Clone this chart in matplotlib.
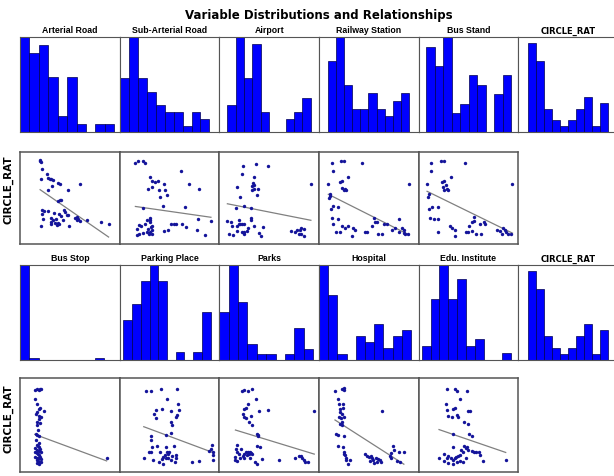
#!/usr/bin/env python

import numpy as np

from matplotlib import pyplot as plt

# histogram bin counts (10 bins each)
arterial_road_counts = [12, 10, 11, 7, 2, 7, 1, 0, 1, 1]
sub_arterial_counts = [8, 14, 8, 6, 4, 3, 3, 1, 3, 2]
airport_counts = [4, 14, 8, 13, 3, 0, 0, 2, 3, 5]
railway_counts = [9, 12, 6, 3, 3, 5, 3, 2, 4, 5]
bus_stand_counts = [9, 7, 10, 2, 3, 6, 5, 0, 4, 6]
circle_rat_counts = [15, 12, 4, 2, 1, 2, 4, 6, 1, 5]
bus_stop_counts = [50, 1, 0, 0, 0, 0, 0, 0, 1, 0]
parking_counts = [5, 7, 10, 12, 10, 0, 1, 0, 1, 6]
parks_counts = [9, 18, 11, 3, 1, 1, 0, 1, 6, 2]
hospital_counts = [16, 11, 1, 0, 4, 3, 6, 2, 4, 5]
edu_counts = [2, 9, 14, 9, 12, 2, 3, 0, 0, 1]

# value range covered by the bins, on a 0-100 axis
arterial_road_span = (0.0, 94.6)
sub_arterial_span = (0.7, 90.0)
airport_span = (8.0, 91.7)
railway_span = (8.7, 90.7)
bus_stand_span = (7.7, 92.7)
circle_rat_span = (9.8, 90.1)
bus_stop_span = (0.0, 93.6)
parking_span = (3.7, 91.3)
parks_span = (0.0, 94.3)
hospital_span = (0.0, 92.3)
edu_span = (3.1, 92.4)

# scatter points (variable, CIRCLE_RAT), both on a 0-100 axis
arterial_road_pts = [
    (20.2, 91.4), (20.5, 89.9), (20.9, 88.8), (21.9, 81.3), (21.2, 70.1), (26.9, 76.3),
    (28.3, 71.9), (30.0, 70.9), (31.6, 70.1), (33.0, 69.1), (32.3, 62.9), (37.7, 66.5),
    (39.7, 64.7), (60.6, 65.5), (27.6, 58.3), (48.5, 59.0), (40.1, 48.2), (38.4, 46.8),
    (41.1, 47.5), (44.4, 37.4), (22.2, 36.7), (24.2, 36.0), (28.3, 36.0), (22.2, 33.1),
    (34.3, 34.2), (39.1, 33.1), (46.8, 31.3), (48.5, 31.3), (23.2, 27.7), (31.0, 28.8),
    (33.3, 25.9), (35.7, 27.7), (41.1, 30.2), (43.4, 25.9), (31.6, 24.1), (35.0, 23.0),
    (37.7, 23.0), (39.1, 21.6), (55.2, 28.8), (56.9, 26.6), (58.6, 27.7), (60.3, 25.2),
    (67.0, 25.9), (31.6, 22.3), (20.9, 20.1), (49.2, 20.1), (81.5, 23.7), (88.9, 22.3),
    (57.2, 29.5), (36.7, 20.5), (45.1, 34.9),
]
sub_arterial_pts = [
    (15.8, 87.8), (18.2, 89.9), (23.2, 89.9), (25.9, 87.8), (61.3, 79.1), (30.0, 72.7),
    (32.7, 68.0), (35.4, 67.3), (38.7, 68.3), (44.8, 65.5), (69.7, 65.5), (28.6, 60.1),
    (32.0, 61.9), (39.4, 58.3), (45.5, 59.0), (79.8, 59.4), (40.7, 51.1), (47.5, 52.9),
    (43.4, 41.4), (65.3, 40.3), (23.2, 39.2), (30.0, 28.8), (27.6, 26.6), (30.6, 26.6),
    (30.0, 24.1), (19.2, 20.5), (21.9, 19.4), (25.9, 21.6), (31.3, 18.7), (32.7, 19.4),
    (17.8, 16.9), (28.6, 16.5), (32.7, 15.8), (27.3, 13.3), (30.6, 13.3), (23.2, 12.2),
    (19.2, 11.5), (17.2, 9.7), (29.3, 10.8), (32.7, 10.8), (44.8, 14.4), (48.1, 15.1),
    (51.2, 21.6), (54.2, 21.6), (56.9, 21.6), (63.0, 21.6), (66.3, 18.7), (79.1, 27.7),
    (91.6, 25.2), (77.8, 15.1), (85.2, 10.1),
]
airport_pts = [
    (23.3, 84.2), (37.2, 86.3), (48.6, 84.2), (22.3, 75.5), (18.2, 61.9), (32.4, 62.6),
    (34.5, 64.0), (35.1, 72.7), (33.4, 66.6), (35.1, 60.1), (38.5, 60.1), (37.8, 52.9),
    (33.1, 59.0), (20.9, 51.1), (25.0, 41.0), (31.8, 39.6), (16.6, 39.2), (91.9, 65.5),
    (8.1, 24.8), (11.5, 24.1), (19.6, 26.6), (31.8, 28.4), (20.9, 21.6), (22.3, 21.6),
    (25.0, 21.6), (18.2, 19.4), (13.2, 19.4), (28.4, 18.0), (35.1, 19.4), (43.9, 18.7),
    (18.2, 14.4), (22.3, 13.3), (25.0, 13.3), (27.7, 14.0), (10.1, 11.5), (14.2, 10.1),
    (24.3, 10.8), (39.9, 12.2), (41.9, 8.6), (72.3, 14.4), (76.4, 12.9), (78.4, 15.8),
    (80.7, 15.1), (82.4, 17.3), (84.5, 16.9), (81.8, 10.8), (84.5, 8.6), (80.1, 10.8),
    (31.8, 25.9), (19.9, 21.6),
]
railway_pts = [
    (12.8, 87.8), (22.1, 89.9), (24.8, 89.9), (43.0, 87.8), (13.8, 79.1), (9.4, 65.5),
    (21.1, 67.3), (22.8, 68.0), (29.5, 72.7), (23.5, 61.2), (26.2, 60.1), (24.8, 58.3),
    (27.5, 59.0), (10.7, 51.8), (10.1, 50.4), (14.4, 41.0), (18.8, 40.3), (12.1, 38.5),
    (90.6, 65.5), (13.4, 28.4), (18.8, 27.7), (14.4, 21.6), (26.2, 17.6), (29.5, 19.4),
    (34.6, 18.0), (36.2, 15.1), (17.4, 13.3), (21.5, 13.3), (33.6, 8.6), (46.3, 13.3),
    (48.3, 13.3), (53.7, 19.4), (56.4, 24.5), (55.0, 28.8), (58.4, 24.1), (64.8, 21.6),
    (68.1, 21.6), (79.9, 27.7), (73.2, 15.1), (76.5, 17.3), (83.2, 17.3), (84.9, 15.1),
    (79.9, 13.3), (85.2, 12.2), (86.6, 10.8), (89.3, 10.8), (59.1, 11.5), (63.1, 10.8),
    (23.5, 19.4), (11.1, 54.7),
]
bus_stand_pts = [
    (12.3, 87.8), (22.5, 89.9), (25.9, 89.9), (46.1, 87.8), (12.3, 79.1), (8.5, 65.5),
    (23.2, 67.3), (25.9, 68.0), (32.1, 72.7), (24.6, 61.9), (25.9, 59.0), (30.0, 59.0),
    (28.0, 60.1), (9.6, 51.1), (13.0, 40.3), (19.1, 40.3), (10.2, 38.5), (94.2, 65.5),
    (11.6, 28.4), (15.7, 27.7), (19.1, 27.7), (55.3, 29.5), (53.9, 24.1), (61.4, 21.6),
    (66.6, 21.6), (65.5, 24.1), (31.4, 19.4), (33.4, 18.0), (36.2, 15.1), (50.5, 19.4),
    (47.1, 13.3), (49.8, 13.3), (53.2, 14.4), (19.8, 13.3), (36.9, 8.6), (63.1, 10.8),
    (58.0, 10.8), (78.5, 15.8), (81.9, 14.4), (84.6, 17.3), (87.0, 15.1), (88.1, 13.3),
    (89.4, 10.8), (92.8, 10.8), (83.6, 10.8), (55.3, 25.2), (10.2, 54.7), (27.3, 63.7),
]
bus_stop_pts = [
    (14.8, 87.1), (17.5, 88.6), (18.9, 87.5), (20.2, 88.6), (21.5, 88.6), (15.5, 77.9),
    (16.8, 72.1), (18.9, 67.1), (17.5, 64.3), (20.2, 67.9), (24.2, 65.0), (16.2, 61.4),
    (19.5, 60.0), (21.5, 58.9), (18.9, 56.4), (17.5, 53.6), (20.2, 51.8), (16.8, 50.0),
    (18.2, 44.6), (16.5, 40.0), (17.5, 39.3), (18.9, 38.6), (16.8, 28.6), (18.2, 27.9),
    (19.5, 26.8), (15.5, 25.0), (17.5, 23.2), (18.9, 22.1), (20.2, 24.3), (14.8, 20.7),
    (16.8, 19.6), (18.2, 18.6), (19.5, 17.9), (20.9, 20.7), (15.5, 16.1), (17.5, 15.0),
    (18.9, 14.3), (20.2, 16.1), (21.5, 13.6), (16.8, 12.5), (18.2, 11.4), (19.5, 10.0),
    (20.9, 10.7), (17.5, 8.9), (18.9, 7.9), (86.9, 15.0), (16.5, 33.9), (18.9, 30.4),
]
parking_pts = [
    (26.6, 86.4), (31.0, 86.4), (41.1, 88.6), (57.9, 88.6), (47.5, 77.9), (58.2, 72.1),
    (36.0, 66.1), (42.8, 67.1), (51.5, 65.0), (59.6, 66.1), (34.3, 61.4), (36.0, 57.1),
    (56.2, 58.9), (57.6, 60.7), (51.2, 52.9), (52.9, 50.0), (31.3, 38.6), (46.1, 39.3),
    (51.2, 41.1), (32.0, 26.8), (37.7, 27.5), (46.1, 26.8), (54.5, 27.9), (29.3, 21.4),
    (31.0, 20.7), (40.7, 20.7), (47.8, 21.4), (48.8, 18.6), (43.4, 16.1), (45.5, 17.9),
    (46.8, 15.0), (56.2, 17.9), (56.9, 15.0), (24.2, 15.0), (33.3, 12.5), (42.8, 13.6),
    (48.8, 14.3), (51.5, 12.5), (52.9, 17.1), (39.4, 10.0), (43.4, 7.9), (55.6, 10.0),
    (72.4, 10.0), (79.8, 11.4), (92.6, 28.6), (91.6, 24.3), (89.2, 22.1), (93.3, 20.7),
    (93.9, 17.9), (93.9, 12.9), (49.5, 20.7), (31.0, 33.9),
]
parks_pts = [
    (22.3, 86.4), (24.3, 87.9), (29.1, 86.4), (33.1, 88.6), (36.5, 77.9), (28.4, 72.1),
    (25.0, 67.1), (26.4, 67.9), (39.9, 65.0), (48.6, 66.1), (23.6, 61.4), (25.0, 58.9),
    (31.8, 60.0), (26.4, 57.9), (30.1, 52.9), (33.1, 50.0), (37.8, 40.0), (39.2, 38.6),
    (38.5, 39.3), (37.8, 27.5), (40.5, 26.8), (17.6, 28.6), (16.9, 24.3), (17.6, 20.7),
    (21.6, 24.3), (27.0, 21.4), (28.4, 20.7), (30.4, 20.7), (31.8, 19.6), (27.7, 17.9),
    (25.0, 18.6), (23.6, 17.1), (29.7, 18.6), (33.1, 18.6), (16.2, 16.1), (20.3, 15.0),
    (16.2, 12.5), (18.2, 11.4), (25.0, 14.3), (30.4, 14.3), (35.8, 10.0), (37.8, 7.9),
    (42.6, 13.6), (59.5, 12.5), (75.7, 15.0), (80.4, 17.1), (81.8, 16.4), (83.1, 14.3),
    (84.5, 12.1), (85.8, 10.0), (89.2, 10.0), (95.3, 65.0), (19.6, 18.6),
]
hospital_pts = [
    (16.1, 86.4), (23.5, 88.6), (24.8, 87.9), (25.5, 89.3), (18.8, 77.9), (20.1, 72.1),
    (24.2, 72.1), (20.8, 67.1), (24.2, 67.9), (21.5, 64.3), (22.8, 61.4), (20.1, 58.9),
    (25.5, 58.9), (22.1, 57.1), (22.8, 52.9), (20.8, 50.7), (23.5, 50.0), (63.1, 65.0),
    (16.8, 40.0), (19.5, 39.3), (24.8, 38.6), (19.5, 27.5), (24.2, 26.8), (25.5, 20.7),
    (24.8, 18.6), (26.2, 17.9), (27.5, 12.5), (26.8, 15.0), (28.9, 7.9), (31.5, 12.5),
    (46.3, 18.6), (48.0, 17.1), (50.3, 16.1), (52.3, 17.1), (53.0, 14.3), (54.7, 12.5),
    (57.0, 15.0), (59.7, 13.6), (61.1, 12.1), (62.4, 10.0), (58.4, 10.7), (71.1, 17.1),
    (72.5, 19.6), (74.5, 27.9), (75.8, 23.2), (79.9, 20.7), (85.2, 20.7), (78.5, 11.4),
    (81.5, 10.0), (72.5, 14.3), (51.0, 11.4), (55.7, 8.9),
]
edu_pts = [
    (28.0, 88.6), (36.2, 88.6), (38.2, 86.4), (48.5, 86.4), (41.6, 77.9), (27.3, 72.1),
    (28.7, 66.1), (34.8, 67.1), (36.2, 67.9), (49.1, 65.0), (51.9, 65.0), (29.4, 60.0),
    (33.4, 58.9), (38.9, 60.7), (39.6, 58.6), (45.1, 52.9), (49.8, 50.7), (50.5, 40.0),
    (53.2, 38.6), (34.8, 40.0), (34.8, 26.8), (45.7, 27.9), (47.1, 25.7), (48.5, 26.8),
    (49.8, 23.2), (53.2, 22.1), (55.3, 20.7), (60.8, 20.7), (62.1, 17.9), (43.0, 23.2),
    (44.4, 20.7), (41.6, 17.9), (39.6, 17.1), (37.5, 16.1), (36.9, 14.3), (34.8, 12.5),
    (32.1, 15.0), (30.0, 17.1), (25.9, 18.6), (28.7, 14.3), (20.5, 15.0), (25.9, 11.4),
    (30.0, 8.9), (34.1, 7.9), (38.2, 10.0), (41.6, 11.4), (44.4, 10.0), (47.1, 15.0),
    (64.8, 11.4), (87.4, 12.5), (57.3, 20.7),
]

# straight fit lines: (slope, intercept)
arterial_road_fit = (-0.744, 74.0)
sub_arterial_fit = (-0.154, 43.3)
airport_fit = (-0.213, 45.5)
railway_fit = (-0.541, 59.1)
bus_stand_fit = (-0.527, 61.7)
bus_stop_fit = (-0.394, 45.8)
parking_fit = (-0.398, 57.8)
parks_fit = (-0.326, 49.9)
hospital_fit = (-0.685, 66.4)
edu_fit = (-0.366, 52.6)

W, H = 614, 477
COL_LEFT = 20
COL_W = 99.65
FRAME = '#555555'


def px_axes(fig, left, top, width, height):
    return fig.add_axes([left / W, 1 - (top + height) / H, width / W, height / H])


def clean(ax, lw):
    ax.set_xticks([])
    ax.set_yticks([])
    for s in ax.spines.values():
        s.set_color(FRAME)
        s.set_linewidth(lw)


def hist_panel(ax, counts, span, title, top=None):
    edges = np.linspace(span[0], span[1], len(counts) + 1)
    ax.bar(edges[:-1], counts, width=np.diff(edges), align='edge',
           color='#0000ff', edgecolor='#000050', linewidth=0.5)
    ax.set_xlim(0, 100)
    ax.set_ylim(0, top if top else max(counts))
    clean(ax, 0.8)
    if title == 'CIRCLE_RAT':
        ax.set_title(title, fontsize=6.0, fontweight='bold',
                     family='DejaVu Sans', pad=3.0)
    else:
        ax.set_title(title, fontsize=6.3, fontweight='bold',
                     family='Liberation Sans', pad=3.5)


def scatter_panel(ax, pts, fit):
    xs, ys = zip(*pts)
    ax.scatter(xs, ys, s=6, color='#14149a', linewidths=0, zorder=3)
    xl = np.array([min(xs), max(xs)])
    ax.plot(xl, fit[0] * xl + fit[1], color='#808080', linewidth=0.9, zorder=2)
    ax.set_xlim(0, 100)
    ax.set_ylim(0, 100)
    clean(ax, 1.1)


def main():
    fig = plt.figure(figsize=(W / 100, H / 100), dpi=100)

    top_hist = [
        ('Arterial Road', arterial_road_counts, arterial_road_span),
        ('Sub-Arterial Road', sub_arterial_counts, sub_arterial_span),
        ('Airport', airport_counts, airport_span),
        ('Railway Station', railway_counts, railway_span),
        ('Bus Stand', bus_stand_counts, bus_stand_span),
    ]
    bottom_hist = [
        ('Bus Stop', bus_stop_counts, bus_stop_span),
        ('Parking Place', parking_counts, parking_span),
        ('Parks', parks_counts, parks_span),
        ('Hospital', hospital_counts, hospital_span),
        ('Edu. Institute', edu_counts, edu_span),
    ]
    top_scatter = [
        (arterial_road_pts, arterial_road_fit),
        (sub_arterial_pts, sub_arterial_fit),
        (airport_pts, airport_fit),
        (railway_pts, railway_fit),
        (bus_stand_pts, bus_stand_fit),
    ]
    bottom_scatter = [
        (bus_stop_pts, bus_stop_fit),
        (parking_pts, parking_fit),
        (parks_pts, parks_fit),
        (hospital_pts, hospital_fit),
        (edu_pts, edu_fit),
    ]

    rows = [(38.3, 95.0, top_hist, 152.7, 92.6, top_scatter, 190),
            (266.0, 94.7, bottom_hist, 379.3, 93.4, bottom_scatter, 419)]

    for h_top, h_h, hists, s_top, s_h, scatters, lab_y in rows:
        for i, (name, counts, span) in enumerate(hists):
            ax = px_axes(fig, COL_LEFT + i * COL_W, h_top, COL_W, h_h)
            hist_panel(ax, counts, span, name)
        ax = px_axes(fig, COL_LEFT + 5 * COL_W, h_top, COL_W, h_h)
        hist_panel(ax, circle_rat_counts, circle_rat_span, 'CIRCLE_RAT', top=16)

        for i, (pts, fit) in enumerate(scatters):
            ax = px_axes(fig, COL_LEFT + i * COL_W, s_top, COL_W, s_h)
            scatter_panel(ax, pts, fit)
        fig.text(8.5 / W, 1 - lab_y / H, 'CIRCLE_RAT', rotation=90,
                 ha='center', va='center', fontsize=7.5, fontweight='bold')

    fig.text(319 / W, 1 - 15 / H, 'Variable Distributions and Relationships',
             ha='center', va='center', fontsize=8.5, fontweight='bold')

    plt.savefig('out.png', dpi=100)


if __name__ == '__main__':
    main()
